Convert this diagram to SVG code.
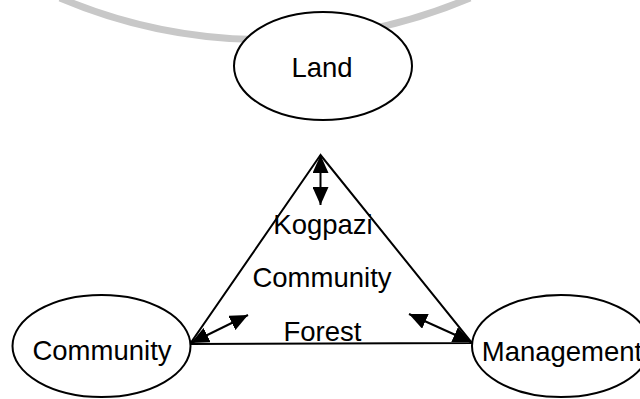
<svg xmlns="http://www.w3.org/2000/svg" width="640" height="399" viewBox="0 0 640 399">
  <style>
    .node { fill: #ffffff; stroke: #000000; stroke-width: 2; }
    .tri { fill: none; stroke: #000000; stroke-width: 2; stroke-linejoin: miter; }
    .lbl { font-family: "Liberation Sans", Arial, sans-serif; font-size: 27.5px; fill: #000000; text-anchor: middle; }
    .conn { stroke: #000000; stroke-width: 2; fill: none; marker-start: url(#ah); marker-end: url(#ah); }
    .wm { fill: none; stroke: #c8c8c8; stroke-width: 7; }
  </style>
  <defs>
    <marker id="ah" markerUnits="userSpaceOnUse" markerWidth="18" markerHeight="16" refX="18" refY="8" orient="auto-start-reverse" viewBox="0 0 18 16">
      <path d="M0,0 L18,8 L0,16 z" fill="#000000"/>
    </marker>
  </defs>
  <rect width="640" height="399" fill="#ffffff"/>
  <g id="watermark">
    <path class="wm" d="M 60 -2 A 525 525 0 0 0 470 -2"/>
  </g>
  <g id="land">
    <ellipse class="node" cx="323" cy="66" rx="89" ry="54"/>
    <text class="lbl" x="322" y="77">Land</text>
  </g>
  <g id="kogpazi-forest">
    <polygon class="tri" points="320.5,155 190,344 472,343"/>
    <text class="lbl" x="323" y="234">Kogpazi</text>
    <text class="lbl" x="322" y="287">Community</text>
    <text class="lbl" x="322.5" y="341">Forest</text>
  </g>
  <g id="community">
    <ellipse class="node" cx="101.5" cy="346" rx="89" ry="51"/>
    <text class="lbl" x="102" y="360">Community</text>
  </g>
  <g id="management">
    <ellipse class="node" cx="561" cy="346" rx="89" ry="51"/>
    <text class="lbl" x="562" y="361">Management</text>
  </g>
  <g id="connectors">
    <line class="conn" x1="320.5" y1="155" x2="320.5" y2="205"/>
    <line class="conn" x1="191" y1="343" x2="248" y2="315"/>
    <line class="conn" x1="471" y1="342" x2="409" y2="314"/>
  </g>
</svg>
